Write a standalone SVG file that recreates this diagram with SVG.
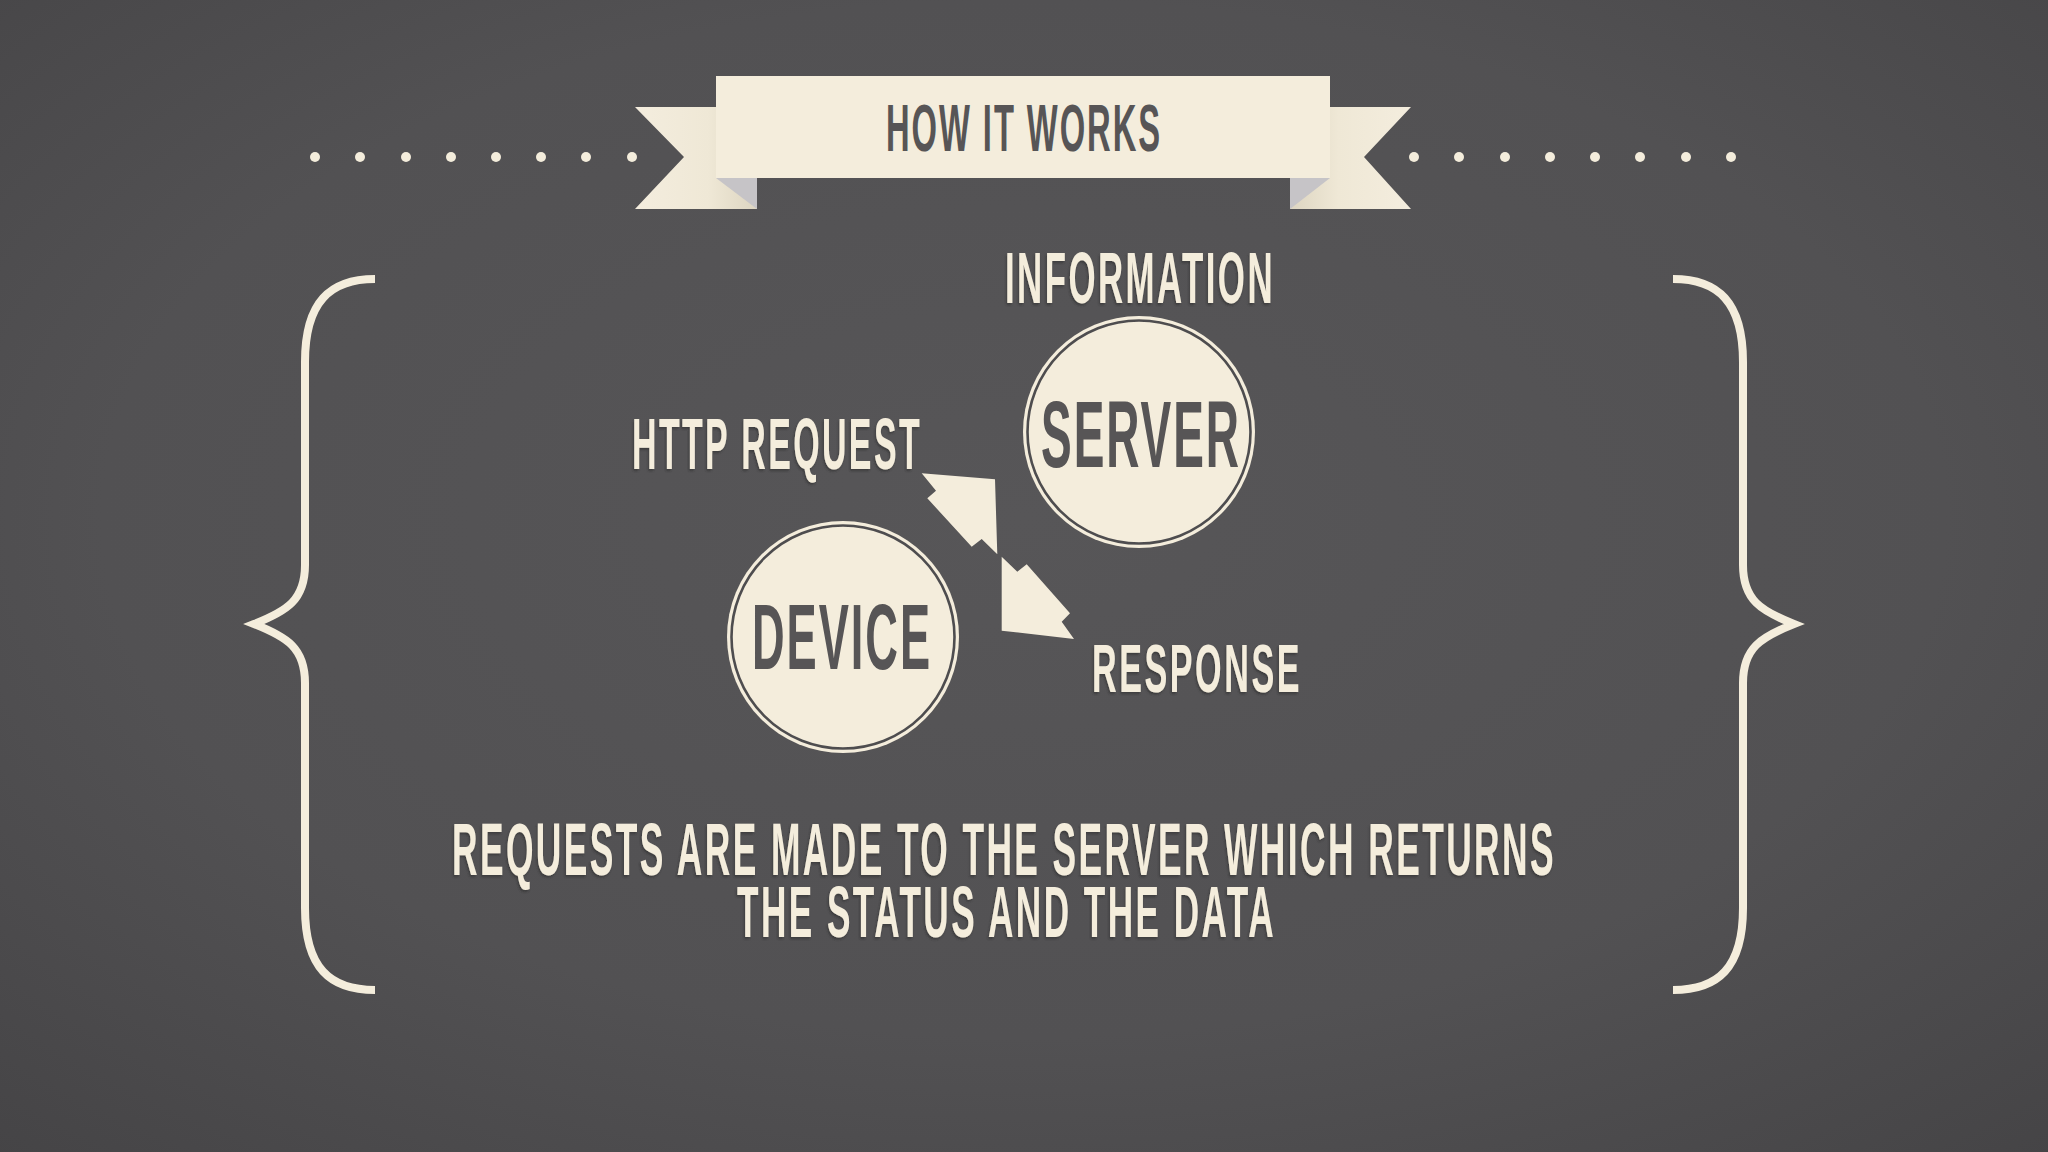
<svg xmlns="http://www.w3.org/2000/svg" width="2048" height="1152" viewBox="0 0 2048 1152">
<defs>
<radialGradient id="bg" cx="50%" cy="45%" r="75%">
<stop offset="0" stop-color="#575658"/>
<stop offset="0.6" stop-color="#525153"/>
<stop offset="1" stop-color="#454446"/>
</radialGradient>
<linearGradient id="tailL" x1="0" y1="0" x2="1" y2="0">
<stop offset="0" stop-color="#f4edde"/>
<stop offset="0.6" stop-color="#efe8d6"/>
<stop offset="1" stop-color="#ddd5c1"/>
</linearGradient>
<linearGradient id="tailR" x1="1" y1="0" x2="0" y2="0">
<stop offset="0" stop-color="#f4edde"/>
<stop offset="0.6" stop-color="#efe8d6"/>
<stop offset="1" stop-color="#ddd5c1"/>
</linearGradient>
<filter id="sh" x="-5%" y="-5%" width="110%" height="115%">
<feDropShadow dx="-1" dy="2" stdDeviation="1.2" flood-color="#2a2a2a" flood-opacity="0.6"/>
</filter>
</defs>
<style>
.cream{fill:#f4eddc}
.lbl{font-family:"Liberation Sans Narrow","Liberation Sans",Arial,sans-serif;font-weight:bold;fill:#f4eddc;letter-spacing:5px}
.dark{font-family:"Liberation Sans Narrow","Liberation Sans",Arial,sans-serif;font-weight:bold;fill:#575556;letter-spacing:4px}
.ring{fill:none;stroke:#4e4d4f;stroke-width:2.6}
.brace{fill:none;stroke:#f4eddc;stroke-width:8;stroke-linejoin:miter;stroke-miterlimit:10}
.dot{fill:#f4eddc}
.fold{fill:#c6c4c7}
</style>
<rect width="2048" height="1152" fill="url(#bg)"/>

<g id="dots-left">
<circle class="dot" cx="315" cy="157" r="5"/>
<circle class="dot" cx="360" cy="157" r="5"/>
<circle class="dot" cx="406" cy="157" r="5"/>
<circle class="dot" cx="451" cy="157" r="5"/>
<circle class="dot" cx="496" cy="157" r="5"/>
<circle class="dot" cx="541" cy="157" r="5"/>
<circle class="dot" cx="586" cy="157" r="5"/>
<circle class="dot" cx="632" cy="157" r="5"/>
</g>
<g id="dots-right">
<circle class="dot" cx="1414" cy="157" r="5"/>
<circle class="dot" cx="1459" cy="157" r="5"/>
<circle class="dot" cx="1505" cy="157" r="5"/>
<circle class="dot" cx="1550" cy="157" r="5"/>
<circle class="dot" cx="1595" cy="157" r="5"/>
<circle class="dot" cx="1640" cy="157" r="5"/>
<circle class="dot" cx="1686" cy="157" r="5"/>
<circle class="dot" cx="1731" cy="157" r="5"/>
</g>

<g id="banner">
<polygon points="635,107 757,107 757,209 635,209 684,157" fill="url(#tailL)"/>
<polygon points="1411,107 1290,107 1290,209 1411,209 1364,157" fill="url(#tailR)"/>
<polygon class="fold" points="716,178 757,178 757,209"/>
<polygon class="fold" points="1330,178 1290,178 1290,209"/>
<rect x="716" y="76" width="614" height="102" class="cream"/>
<text class="dark" x="886" y="151" font-size="67" textLength="276" lengthAdjust="spacingAndGlyphs">HOW IT WORKS</text>
</g>

<g id="brace-left">
<path class="brace" d="M375,279 C330,279 305,302 305,362 L305,565 C305,600 287,611 254,624 C287,637 305,648 305,683 L305,908 C305,968 330,990 375,990"/>
</g>
<g id="brace-right">
<path class="brace" transform="translate(2048,0) scale(-1,1)" d="M375,279 C330,279 305,302 305,362 L305,565 C305,600 287,611 254,624 C287,637 305,648 305,683 L305,908 C305,968 330,990 375,990"/>
</g>

<g id="server">
<circle class="cream" cx="1139" cy="432" r="116"/>
<circle class="ring" cx="1139" cy="432" r="111.5"/>
<text class="dark" x="1041" y="467" font-size="94" textLength="200" lengthAdjust="spacingAndGlyphs">SERVER</text>
</g>
<g id="device">
<circle class="cream" cx="843" cy="637" r="116"/>
<circle class="ring" cx="843" cy="637" r="111.5"/>
<text class="dark" x="752" y="669" font-size="92" textLength="180" lengthAdjust="spacingAndGlyphs">DEVICE</text>
</g>

<g id="connectors">
<polygon class="cream" points="921.7,473.3 995,479.3 997.3,554.3 981.7,539 971.7,546.7 927.3,498.3 936,490.7"/>
<polygon class="cream" points="1001.7,556.7 1017.3,571.7 1026.7,564.3 1070,613.3 1061.7,621.7 1074,639 1001.7,630.7"/>
</g>

<g id="labels" filter="url(#sh)">
<text class="lbl" x="1005" y="303" font-size="72" textLength="270" lengthAdjust="spacingAndGlyphs">INFORMATION</text>
<text class="lbl" x="632" y="469" font-size="73" textLength="290" lengthAdjust="spacingAndGlyphs">HTTP REQUEST</text>
<text class="lbl" x="1092" y="692" font-size="68" textLength="210" lengthAdjust="spacingAndGlyphs">RESPONSE</text>
<text class="lbl" x="452" y="875" font-size="74" textLength="1104" lengthAdjust="spacingAndGlyphs">REQUESTS ARE MADE TO THE SERVER WHICH RETURNS</text>
<text class="lbl" x="737" y="937" font-size="73" textLength="539" lengthAdjust="spacingAndGlyphs">THE STATUS AND THE DATA</text>
</g>
</svg>
